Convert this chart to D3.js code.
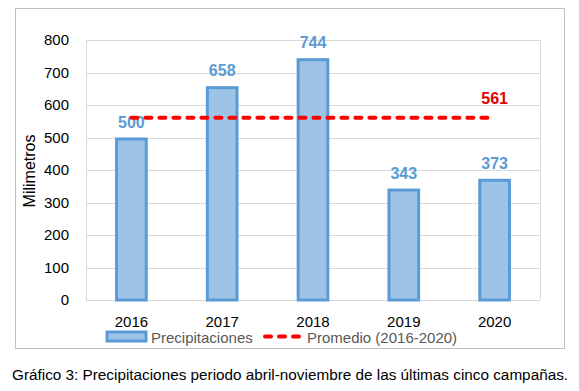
<!DOCTYPE html>
<html>
<head>
<meta charset="utf-8">
<script src="https://cdn.jsdelivr.net/npm/d3@7"></script>
<style>
  body { margin: 0; background: #fff; }
  text { font-family: "Liberation Sans", Arial, sans-serif; }
</style>
</head>
<body>
<svg id="chart" width="579" height="391"></svg>
<script>
// data
let years = ["2016", "2017", "2018", "2019", "2020"];
let rainfall = [500, 658, 744, 343, 373];
let average = 561;
let yTicks = [0, 100, 200, 300, 400, 500, 600, 700, 800];

let svg = d3.select("#chart");

// outer chart frame
svg.append("rect")
    .attr("x", 15.5).attr("y", 8.5)
    .attr("width", 549).attr("height", 340)
    .attr("fill", "#fff")
    .attr("stroke", "#bfbfbf");

let x = d3.scaleBand().domain(years).range([86, 540]).paddingInner(0.64).paddingOuter(0.32);
let y = d3.scaleLinear().domain([0, 800]).range([300, 40]);

// grid
svg.append("g")
    .selectAll("line")
    .data(yTicks)
    .enter()
    .append("line")
    .attr("x1", 86).attr("x2", 540)
    .attr("y1", d => Math.round(y(d)) + 0.5)
    .attr("y2", d => Math.round(y(d)) + 0.5)
    .attr("stroke", "#d9d9d9");

// plot border sides
svg.append("line").attr("x1", 86.5).attr("x2", 86.5).attr("y1", y(800)).attr("y2", y(0))
    .attr("stroke", "#d9d9d9");
svg.append("line").attr("x1", 540.5).attr("x2", 540.5).attr("y1", y(800)).attr("y2", y(0))
    .attr("stroke", "#d9d9d9");

// y axis labels
let yAxis = svg.append("g")
    .attr("transform", "translate(86,0)")
    .call(d3.axisLeft(y).tickValues(yTicks).tickSize(0).tickPadding(17));
yAxis.select(".domain").remove();
yAxis.selectAll("text")
    .style("font-family", "Liberation Sans, Arial, sans-serif")
    .style("font-size", "15px")
    .attr("fill", "#000");

svg.append("text")
    .attr("transform", "translate(35,171) rotate(-90)")
    .attr("text-anchor", "middle")
    .style("font-size", "16px")
    .text("Milimetros");

// bars
svg.append("g")
    .selectAll("rect")
    .data(rainfall)
    .enter()
    .append("rect")
    .attr("x", (d, i) => x(years[i]) + 1.5)
    .attr("y", d => y(d) + 1.5)
    .attr("width", x.bandwidth() - 3)
    .attr("height", d => y(0) - y(d) - 1.5)
    .attr("fill", "#9dc3e6")
    .attr("stroke", "#5b9bd5")
    .attr("stroke-width", 3);

// value labels
svg.append("g")
    .selectAll("text")
    .data(rainfall)
    .enter()
    .append("text")
    .attr("x", (d, i) => x(years[i]) + x.bandwidth() / 2)
    .attr("y", d => y(d) - 10)
    .attr("text-anchor", "middle")
    .style("font-size", "16px")
    .style("font-weight", "bold")
    .attr("fill", "#5b9bd5")
    .text(d => d);

// average line
let cx = d => x(d) + x.bandwidth() / 2;
svg.append("line")
    .attr("x1", cx(years[0]))
    .attr("x2", cx(years[years.length - 1]))
    .attr("y1", y(average)).attr("y2", y(average))
    .attr("stroke", "#ff0000")
    .attr("stroke-width", 4)
    .attr("stroke-linecap", "round")
    .attr("stroke-dasharray", "6,8");

svg.append("text")
    .attr("x", cx(years[years.length - 1]))
    .attr("y", y(average) - 14)
    .attr("text-anchor", "middle")
    .style("font-size", "16px")
    .style("font-weight", "bold")
    .attr("fill", "#e00000")
    .text(average);

// x labels
svg.append("g")
    .selectAll("text")
    .data(years)
    .enter()
    .append("text")
    .attr("x", d => cx(d))
    .attr("y", 327)
    .attr("text-anchor", "middle")
    .style("font-size", "15px")
    .attr("fill", "#000")
    .text(d => d);

// legend
svg.append("rect")
    .attr("x", 107).attr("y", 332)
    .attr("width", 39).attr("height", 9)
    .attr("fill", "#9dc3e6")
    .attr("stroke", "#5b9bd5")
    .attr("stroke-width", 3);
svg.append("text")
    .attr("x", 151).attr("y", 342.5)
    .style("font-size", "15px")
    .attr("fill", "#595959")
    .text("Precipitaciones");
svg.append("line")
    .attr("x1", 265).attr("x2", 299)
    .attr("y1", 336.5).attr("y2", 336.5)
    .attr("stroke", "#ff0000")
    .attr("stroke-width", 4)
    .attr("stroke-linecap", "round")
    .attr("stroke-dasharray", "6,8");
svg.append("text")
    .attr("x", 307).attr("y", 342.5)
    .style("font-size", "15px")
    .attr("fill", "#595959")
    .text("Promedio (2016-2020)");

// caption
svg.append("text")
    .attr("x", 12).attr("y", 380)
    .style("font-size", "15.3px")
    .attr("fill", "#000")
    .text("Gráfico 3: Precipitaciones periodo abril-noviembre de las últimas cinco campañas.");
</script>
</body>
</html>
